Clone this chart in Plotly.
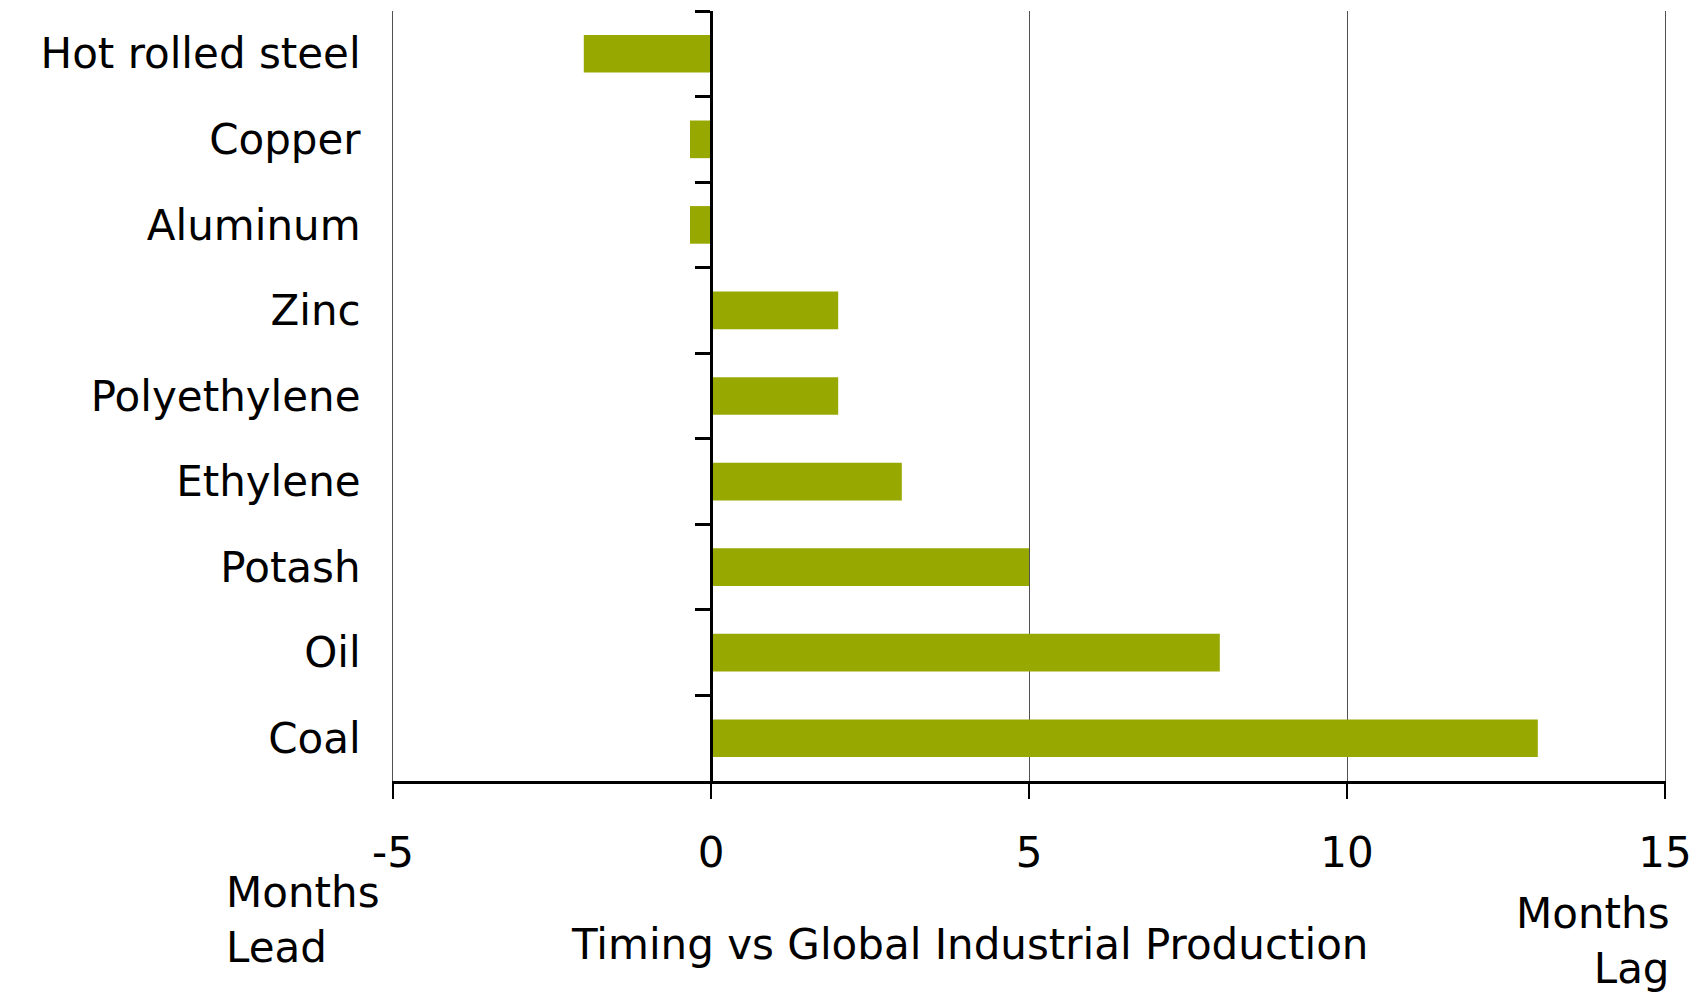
import plotly.graph_objects as go

# Lead (-) / lag (+) in months versus global industrial production
commodities = ["Hot rolled steel", "Copper", "Aluminum", "Zinc", "Polyethylene",
               "Ethylene", "Potash", "Oil", "Coal"]
lag_months = [-2, -0.33, -0.33, 2, 2, 3, 5, 8, 13]

x_ticks = [-5, 0, 5, 10, 15]

BAR_COLOR = "#97A800"
GRID_COLOR = "#505050"
FONT = "DejaVu Sans"
FS = 42

fig = go.Figure()

fig.add_trace(go.Bar(
    x=lag_months,
    y=commodities,
    orientation="h",
    width=0.44,
    marker=dict(color=BAR_COLOR, line=dict(width=0)),
    hoverinfo="x+y",
))

# helper trace so the zero-position category axis (ticks between bars) is drawn
fig.add_trace(go.Scatter(
    x=lag_months,
    y=commodities,
    yaxis="y2",
    mode="none",
    hoverinfo="skip",
    showlegend=False,
))

cat_range = [len(commodities) - 0.5, -0.5]

fig.update_layout(
    width=1705,
    height=997,
    margin=dict(l=393, r=40, t=11, b=216),
    paper_bgcolor="white",
    plot_bgcolor="white",
    showlegend=False,
    font=dict(family=FONT, size=FS, color="black"),
    bargap=0.56,
    xaxis=dict(
        range=[-5, 15],
        tickvals=x_ticks,
        ticktext=[str(v) for v in x_ticks],
        showgrid=True,
        gridcolor=GRID_COLOR,
        gridwidth=1,
        zeroline=False,
        showline=True,
        linecolor="black",
        linewidth=3,
        ticks="outside",
        ticklen=15,
        tickwidth=2,
        tickcolor="black",
        tickfont=dict(family=FONT, size=FS, color="black"),
        ticklabelstandoff=18,
        fixedrange=True,
    ),
    yaxis=dict(
        type="category",
        categoryorder="array",
        categoryarray=commodities,
        range=cat_range,
        showgrid=False,
        zeroline=False,
        # thin edge lines at -5 and 15, matching the vertical gridlines
        showline=True,
        linecolor=GRID_COLOR,
        linewidth=1,
        mirror=True,
        ticks="",
        tickfont=dict(family=FONT, size=FS, color="black"),
        ticklabelstandoff=23,
        fixedrange=True,
    ),
    yaxis2=dict(
        type="category",
        categoryorder="array",
        categoryarray=commodities,
        range=cat_range,
        overlaying="y",
        anchor="free",
        position=0.25,
        side="left",
        showticklabels=False,
        showgrid=False,
        zeroline=False,
        showline=True,
        linecolor="black",
        linewidth=3,
        ticks="outside",
        tickson="boundaries",
        ticklen=15,
        tickwidth=3,
        tickcolor="black",
        fixedrange=True,
    ),
    annotations=[
        dict(text="Timing vs Global Industrial Production",
             xref="paper", yref="paper", x=0.4536, y=-0.2117,
             xanchor="center", yanchor="middle", showarrow=False,
             font=dict(family=FONT, size=FS, color="black")),
        dict(text="Months<br>Lead",
             xref="paper", yref="paper", x=-0.1329, y=-0.181,
             xanchor="left", yanchor="middle", align="left", showarrow=False,
             font=dict(family=FONT, size=FS, color="black")),
        dict(text="Months<br>Lag",
             xref="paper", yref="paper", x=1.0055, y=-0.2078,
             xanchor="right", yanchor="middle", align="right", showarrow=False,
             font=dict(family=FONT, size=FS, color="black")),
    ],
)

fig.write_html("out.html")
